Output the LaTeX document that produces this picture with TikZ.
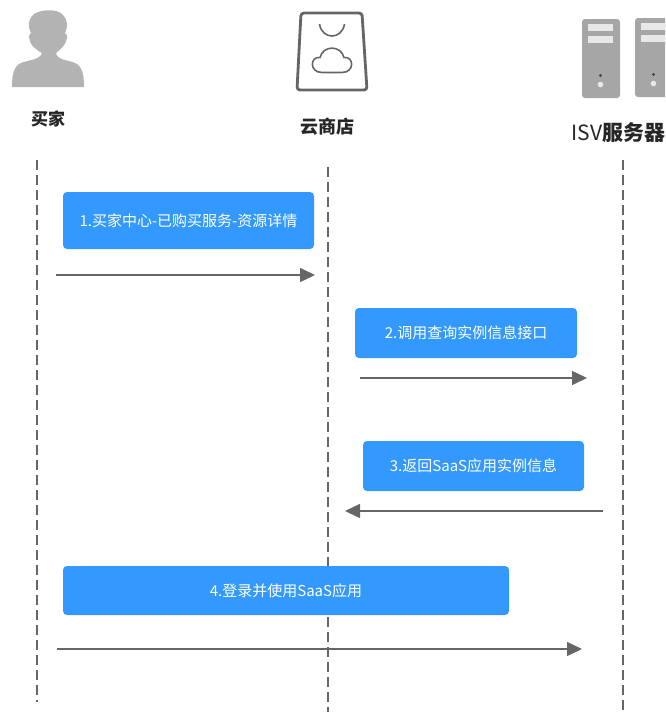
\documentclass[tikz,border=0pt]{standalone}
\usepackage{fontspec}
\setmainfont{Noto Sans CJK SC}
\usetikzlibrary{arrows.meta,calc,positioning}
\definecolor{stepblue}{HTML}{3399FF}
\definecolor{linegray}{HTML}{666666}
\definecolor{persongray}{HTML}{B3B3B3}
\definecolor{servergray}{HTML}{A6A6A6}
\definecolor{slotgray}{HTML}{E8E8E8}
\tikzset{
    stepbox/.style={fill=stepblue,text=white,rounded corners=4pt,inner sep=0pt,font=\fontsize{15}{17}\selectfont},
    lifeline/.style={draw=linegray,line width=1.2pt,dash pattern=on 10pt off 5pt},
    message/.style={draw=linegray,line width=1.5pt,-{Triangle[length=15pt,width=14pt]}},
    actorlabel/.style={text=black!85,font=\fontsize{18}{20}\selectfont\bfseries,inner sep=0pt},
}
\begin{document}
\begin{tikzpicture}[x=1pt,y=-1pt]
    \useasboundingbox (0,0) rectangle (665,713);

    % buyer
    \fill[persongray] (12,87) .. controls (12,74) and (14,66) .. (21,63)
        .. controls (28,60) and (40,60) .. (42,53)
        .. controls (36,50) and (29,44) .. (29,37)
        .. controls (29,35) and (30,34) .. (31,33)
        .. controls (28,27) and (28,20) .. (32,16)
        .. controls (37,9) and (58,8) .. (63,15)
        .. controls (68,20) and (68,27) .. (65,33)
        .. controls (67,35) and (68,36) .. (67,38)
        .. controls (66,45) and (60,50) .. (56,53)
        .. controls (57,60) and (68,60) .. (75,63)
        .. controls (82,66) and (84,74) .. (84,87) -- cycle;
    \node[actorlabel,font=\fontsize{17}{20}\selectfont\bfseries] (buyer) at (48,118.5) {买家};

    % shop
    \draw[linegray,line width=2.8pt,rounded corners=3pt] (301,13) -- (362,13) -- (367,90) -- (297,90) -- cycle;
    \draw[linegray,line width=1.6pt] (319.5,24) .. controls (322,40) and (342,40) .. (344.5,24);
    \draw[linegray,line width=1.6pt] (322,72.5) .. controls (309,72.5) and (310,56) .. (320,57.5)
        .. controls (323,45) and (341,45) .. (344,57.5)
        .. controls (354,56) and (355,72.5) .. (342,72.5) -- cycle;
    \node[actorlabel] (shop) at (327.5,126.5) {云商店};

    % servers
    \begin{scope}
        \clip (570,0) rectangle (665,110);
        \foreach \sx/\sy in {582/19,635/18}{
            \fill[servergray,rounded corners=3pt] (\sx,\sy) rectangle ++(38,79);
            \fill[slotgray] (\sx+6,\sy+5) rectangle ++(25,7);
            \fill[slotgray] (\sx+6,\sy+17) rectangle ++(25,6.5);
            \fill[linegray!70!black] (\sx+18.5,\sy+56.5) circle[radius=1.7];
            \fill[slotgray] (\sx+18.5,\sy+65.5) circle[radius=2.8];
        }
    \end{scope}
    \node[text=black!85,inner sep=0pt,font=\fontsize{21}{24}\selectfont,anchor=east] (isv) at (665.5,133) {ISV\textbf{服务器}};

    % lifelines
    \draw[lifeline] (37,160) coordinate (buyerTop) -- (37,702) coordinate (buyerEnd);
    \draw[lifeline] (328,167) coordinate (shopTop) -- (328,712) coordinate (shopEnd);
    \draw[lifeline] (623,160) coordinate (isvTop) -- (623,710) coordinate (isvEnd);

    % steps
    \node[stepbox,minimum width=251pt,minimum height=57pt] (stepA) at (188.5,220.5) {1.买家中心-已购买服务-资源详情};
    \node[stepbox,minimum width=222pt,minimum height=50pt] (stepB) at (466,333) {2.调用查询实例信息接口};
    \node[stepbox,minimum width=221pt,minimum height=50pt] (stepC) at (473.5,466) {3.返回SaaS应用实例信息};
    \node[stepbox,minimum width=446pt,minimum height=49pt] (stepD) at (286,590.5) {4.登录并使用SaaS应用};

    % messages
    \coordinate (aStart) at (56,275);
    \coordinate (aEnd) at (315,275);
    \coordinate (bStart) at (360,378);
    \coordinate (bEnd) at (587,378);
    \coordinate (cStart) at (603,511);
    \coordinate (cEnd) at (345,511);
    \coordinate (dStart) at (57,649);
    \coordinate (dEnd) at (582,649);
    \draw[message] (aStart) -- (aEnd);
    \draw[message] (bStart) -- (bEnd);
    \draw[message] (cStart) -- (cEnd);
    \draw[message] (dStart) -- (dEnd);
\end{tikzpicture}
\end{document}
